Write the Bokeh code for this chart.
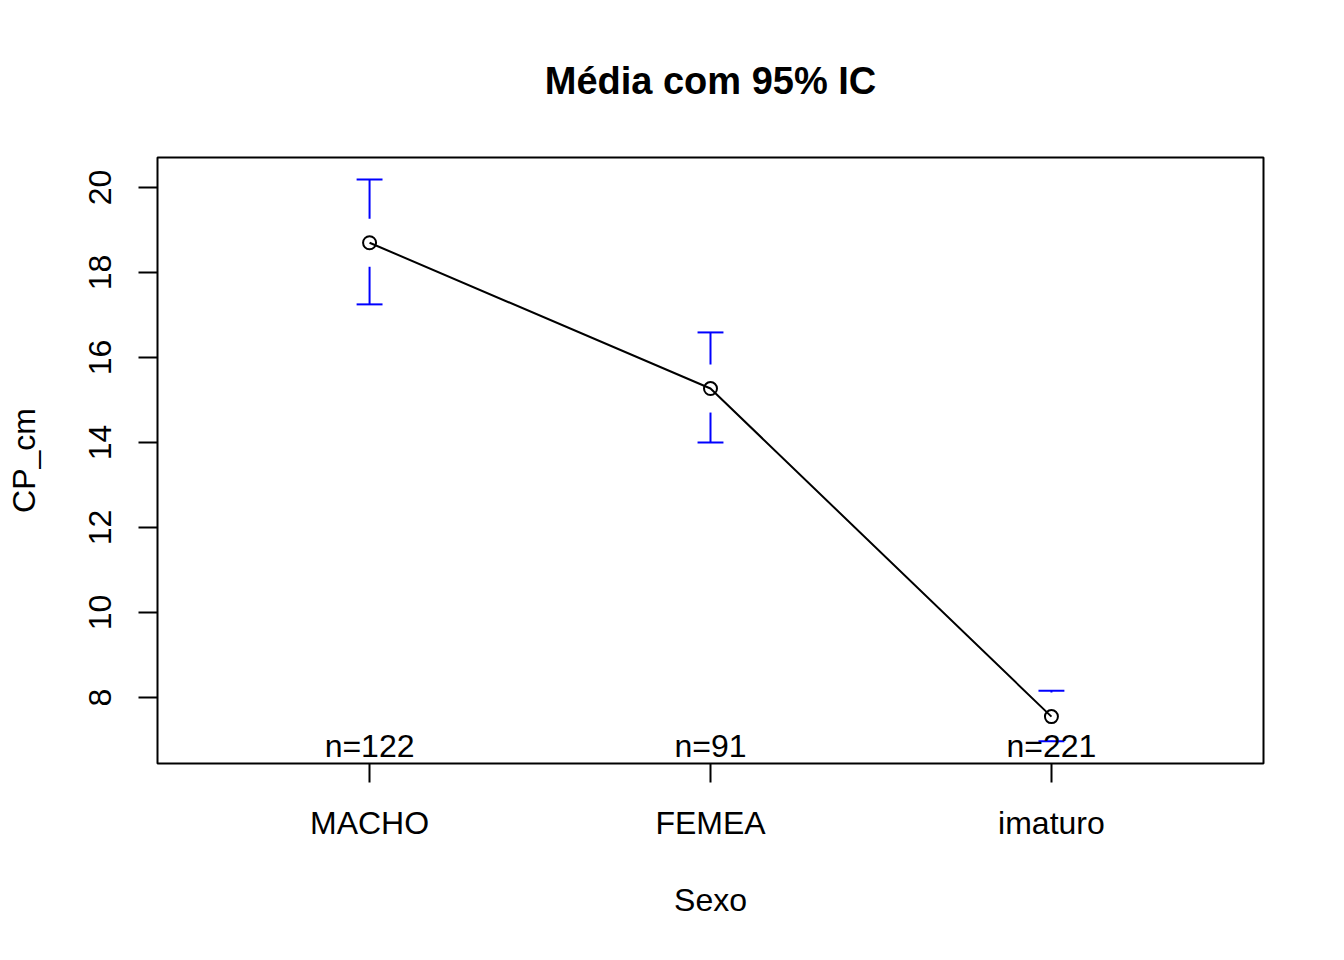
from bokeh.plotting import figure
from bokeh.models import Range1d, FixedTicker, ColumnDataSource
from bokeh.embed import file_html
from bokeh.resources import INLINE
from bokeh.core.properties import value

# ---- data ----
categories = ["MACHO", "FEMEA", "imaturo"]
means = [18.70, 15.27, 7.55]
ci_lower = [17.25, 14.00, 6.97]
ci_upper = [20.19, 16.59, 8.16]
counts = [122, 91, 221]
y_ticks = [8, 10, 12, 14, 16, 18, 20]

# ---- style constants ----
FONT = "Liberation Sans"
GAP = 0.565       # gap (data units) between mean marker and CI whisker
CAP_HALF = 0.038  # half-width of CI caps (x data units)
Y_START, Y_END = 6.447, 20.706
X_START, X_END = 0.378, 3.622

xs = list(range(1, len(categories) + 1))

p = figure(width=1328, height=944, output_backend="svg", toolbar_location=None,
           x_range=Range1d(X_START, X_END), y_range=Range1d(Y_START, Y_END),
           min_border_left=157, min_border_right=65, min_border_top=157,
           min_border_bottom=181, title="Média com 95% IC")

p.background_fill_color = "white"
p.border_fill_color = "white"
p.outline_line_color = "black"
p.outline_line_width = 2
p.xgrid.visible = False
p.ygrid.visible = False

p.title.align = "center"
p.title.text_font = FONT
p.title.text_font_size = "38px"
p.title.text_font_style = "bold"
p.title.text_color = "black"
p.title.standoff = 112

for ax in (p.xaxis[0], p.yaxis[0]):
    ax.axis_line_color = None
    ax.major_tick_line_color = "black"
    ax.major_tick_line_width = 2
    ax.major_tick_out = 19
    ax.major_tick_in = 0
    ax.minor_tick_line_color = None
    ax.major_label_text_font = FONT
    ax.major_label_text_font_size = "32px"
    ax.major_label_text_color = "black"
    ax.axis_label_text_font = FONT
    ax.axis_label_text_font_size = "32px"
    ax.axis_label_text_font_style = "normal"
    ax.axis_label_text_color = "black"

p.xaxis.ticker = FixedTicker(ticks=xs)
p.xaxis.major_label_overrides = {x: c for x, c in zip(xs, categories)}
p.xaxis.axis_label = "Sexo"
p.xaxis.major_label_standoff = 22
p.xaxis.axis_label_standoff = 38

p.yaxis.ticker = FixedTicker(ticks=y_ticks)
p.yaxis.major_label_orientation = "vertical"
p.yaxis.axis_label = "CP_cm"
p.yaxis.major_label_standoff = 27
p.yaxis.axis_label_standoff = 45

# ---- CI whiskers (with gap around the mean, as plotmeans/plotCI) ----
up = [(x, m + GAP, u) for x, m, u in zip(xs, means, ci_upper) if u > m + GAP]
lo = [(x, m - GAP, l) for x, m, l in zip(xs, means, ci_lower) if l < m - GAP]
p.segment(x0=[a[0] for a in up], y0=[a[1] for a in up],
          x1=[a[0] for a in up], y1=[a[2] for a in up],
          line_color="blue", line_width=2)
p.segment(x0=[a[0] for a in lo], y0=[a[1] for a in lo],
          x1=[a[0] for a in lo], y1=[a[2] for a in lo],
          line_color="blue", line_width=2)
p.segment(x0=[x - CAP_HALF for x in xs], y0=ci_upper,
          x1=[x + CAP_HALF for x in xs], y1=ci_upper,
          line_color="blue", line_width=2)
p.segment(x0=[x - CAP_HALF for x in xs], y0=ci_lower,
          x1=[x + CAP_HALF for x in xs], y1=ci_lower,
          line_color="blue", line_width=2)

# ---- mean line and points ----
src = ColumnDataSource(dict(x=xs, y=means))
p.line("x", "y", source=src, line_color="black", line_width=2)
p.scatter("x", "y", source=src, marker="circle", size=13,
          fill_color=None, line_color="black", line_width=2)

# ---- n labels ----
p.text(x=xs, y=[Y_START] * len(xs), text=[f"n={c}" for c in counts],
       text_font=value(FONT), text_font_size="32px", text_color="black",
       text_align="center", text_baseline="bottom", y_offset=0)

open("out.html", "w").write(file_html(p, INLINE))
